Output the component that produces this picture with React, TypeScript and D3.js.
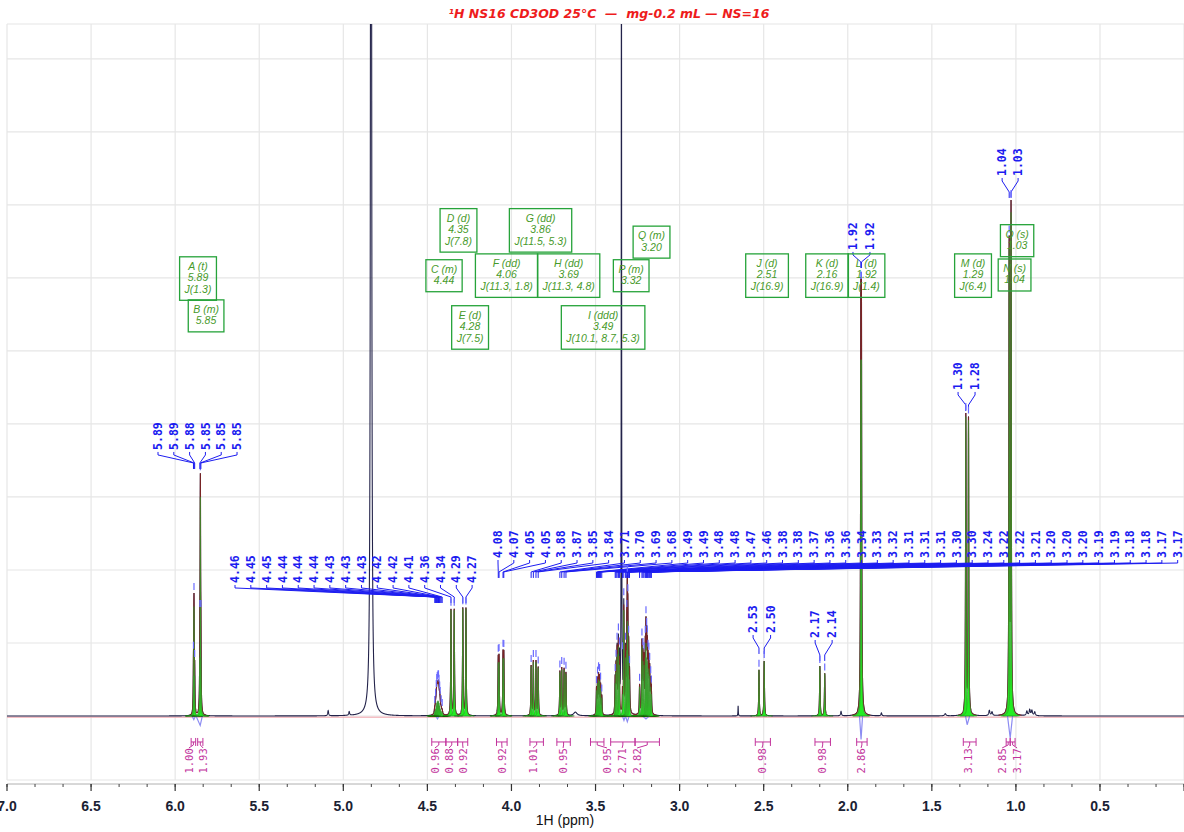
import React, { useMemo } from 'react'
import * as d3 from 'd3'

const W = 1184
const H = 832
const frame = { left: 7, right: 1184.07, top: 24, bottom: 780 }
const ppmDomain: [number, number] = [7, 0]
// intensity units: one grid row = 1
const intensityDomain: [number, number] = [-0.877, 9.479]

const titleText = '¹H NS16 CD3OD 25°C  —  mg-0.2 mL — NS=16'
const axisTitle = '1H (ppm)'

// multiplet report
const multipletIds = ['A', 'B', 'C', 'D', 'E', 'F', 'G', 'H', 'I', 'P', 'Q', 'J', 'K', 'L', 'M', 'N', 'O']
const multipletKinds = ['t', 'm', 'm', 'd', 'd', 'dd', 'dd', 'dd', 'ddd', 'm', 'm', 'd', 'd', 'd', 'd', 's', 's']
const multipletShifts = ['5.89', '5.85', '4.44', '4.35', '4.28', '4.06', '3.86', '3.69', '3.49', '3.32', '3.20', '2.51', '2.16', '1.92', '1.29', '1.04', '1.03']
const multipletCouplings = ['1.3', '', '', '7.8', '7.5', '11.3, 1.8', '11.5, 5.3', '11.3, 4.8', '10.1, 8.7, 5.3', '', '', '16.9', '16.9', '1.4', '6.4', '', '']
// where each report box sits: [ppm of box centre, intensity of box top]
const multipletBoxAt: [number, number][] = [
    [5.864, 6.29], [5.816, 5.70], [4.401, 6.25], [4.315, 6.95], [4.246, 5.62], [4.029, 6.33],
    [3.827, 6.95], [3.660, 6.33], [3.455, 5.62], [3.288, 6.25], [3.167, 6.71], [2.480, 6.33],
    [2.123, 6.33], [1.889, 6.33], [1.255, 6.33], [1.008, 6.26], [0.993, 6.73],
]

// deconvolved lines: [ppm, height, multiplet, half width (ppm)]
const fitLines: [number, number, string, number?][] = [
    [5.891, 0.55, 'A', 0.0015], [5.888, 1.5, 'A', 0.0015], [5.884, 0.55, 'A', 0.0015],
    [5.853, 0.8, 'B', 0.0015], [5.850, 3.0, 'B', 0.0015], [5.847, 0.8, 'B', 0.0015],
    [4.456, 0.06, 'C', 0.003], [4.451, 0.1, 'C', 0.003], [4.447, 0.14, 'C', 0.003], [4.444, 0.18, 'C', 0.003],
    [4.441, 0.2, 'C', 0.003], [4.437, 0.21, 'C', 0.003], [4.434, 0.2, 'C', 0.003], [4.431, 0.18, 'C', 0.003],
    [4.427, 0.14, 'C', 0.003], [4.424, 0.1, 'C', 0.003], [4.418, 0.07, 'C', 0.003], [4.412, 0.05, 'C', 0.003],
    [4.3597, 1.45, 'D'], [4.3403, 1.45, 'D'],
    [4.2894, 1.47, 'E'], [4.2706, 1.47, 'E'],
    [4.0784, 0.73, 'F'], [4.0739, 0.74, 'F'], [4.0501, 0.79, 'F'], [4.0456, 0.79, 'F'],
    [3.883, 0.68, 'G'], [3.8698, 0.74, 'G'], [3.8542, 0.74, 'G'], [3.841, 0.66, 'G'],
    [3.712, 0.6, 'H'], [3.701, 0.64, 'H'], [3.687, 0.63, 'H'], [3.676, 0.58, 'H'],
    [3.494, 0.35, 'I'], [3.488, 0.45, 'I'], [3.482, 0.5, 'I'], [3.476, 0.48, 'I'], [3.470, 0.38, 'I'], [3.463, 0.25, 'I'],
    [3.383, 0.45, 'P'], [3.378, 0.6, 'P'], [3.372, 0.85, 'P'], [3.364, 0.95, 'P'], [3.358, 0.7, 'P'],
    [3.340, 0.3, 'P'], [3.332, 1.45, 'P'], [3.321, 0.8, 'P'], [3.314, 0.9, 'P'], [3.311, 1.3, 'P'],
    [3.308, 1.1, 'P'], [3.303, 0.8, 'P'], [3.298, 0.5, 'P'],
    [3.238, 0.4, 'Q'], [3.224, 0.95, 'Q'], [3.218, 0.75, 'Q'], [3.212, 0.7, 'Q'], [3.204, 0.8, 'Q'],
    [3.200, 1.0, 'Q'], [3.196, 0.8, 'Q'], [3.192, 0.75, 'Q'], [3.188, 0.6, 'Q'], [3.183, 0.65, 'Q'],
    [3.178, 0.55, 'Q'], [3.172, 0.4, 'Q'], [3.168, 0.3, 'Q'],
    [2.528, 0.63, 'J'], [2.497, 0.75, 'J'],
    [2.166, 0.68, 'K'], [2.137, 0.58, 'K'],
    [1.9222, 4.88, 'L'], [1.9188, 4.88, 'L'],
    [1.298, 4.1, 'M'], [1.282, 4.05, 'M'],
    [1.040, 6.4, 'N'], [1.029, 6.9, 'O'],
]

// signals only in the measured spectrum: [ppm, height, half width]
const rawLines: [number, number, number][] = [
    [4.835, 30, 0.0025], [3.346, 12, 0.0012], [5.09, 0.07, 0.003], [4.965, 0.05, 0.003],
    [3.62, 0.05, 0.012], [2.652, 0.14, 0.0012], [2.04, 0.06, 0.003], [1.80, 0.04, 0.003],
    [1.42, 0.03, 0.005], [1.158, 0.07, 0.004], [1.142, 0.05, 0.004], [0.935, 0.06, 0.004],
    [0.918, 0.08, 0.004], [0.905, 0.07, 0.004], [0.888, 0.05, 0.004],
]

// residual of the fit, where it leaves the baseline
const residualDips: [number, number][][] = [
    [[5.90, 0], [5.889, -0.05], [5.878, 0.01], [5.851, -0.13], [5.838, 0]],
    [[4.45, 0], [4.44, -0.04], [4.43, 0]],
    [[3.34, 0], [3.331, -0.06], [3.322, 0], [3.311, -0.08], [3.30, 0]],
    [[3.22, 0], [3.20, -0.04], [3.18, 0]],
    [[1.93, 0], [1.921, -0.32], [1.912, 0]],
    [[1.30, 0], [1.29, -0.12], [1.275, 0]],
    [[1.05, 0], [1.034, -0.3], [1.02, 0]],
]

// peak labels: multiplets in each labelled cluster
const pickGroups = [['A', 'B'], ['C', 'D', 'E'], ['F', 'G', 'H', 'I', 'P', 'Q'], ['J'], ['K'], ['L'], ['M'], ['N', 'O']]
// [first label ppm, label pitch ppm, label foot intensity, knee intensity]
const pickLayout: [number, number, number, number][] = [
    [6.102, 0.094, 3.644, 3.466],
    [5.644, 0.094, 1.822, 1.63],
    [4.080, 0.094, 2.164, 1.973],
    [2.563, 0.104, 1.137, 0.932],
    [2.194, 0.101, 1.068, 0.836],
    [1.969, 0.101, 6.384, 6.219],
    [1.344, 0.101, 4.466, 4.26],
    [1.082, 0.095, 7.397, 7.178],
]

// integrals
const integralRanges: [number, number][] = [
    [5.905, 5.878], [5.866, 5.835], [4.474, 4.39], [4.39, 4.32], [4.32, 4.26], [4.089, 4.026],
    [3.89, 3.81], [3.73, 3.65], [3.53, 3.45], [3.41, 3.265], [3.265, 3.12], [2.55, 2.46],
    [2.195, 2.103], [1.947, 1.885], [1.313, 1.237], [1.058, 1.034], [1.034, 1.005],
]
const integralValues = ['1.00', '1.93', '0.96', '0.88', '0.92', '0.92', '1.01', '0.95', '0.95', '2.71', '2.82', '0.98', '0.98', '2.86', '3.13', '2.85', '3.17']
const integralTextAt = [5.918, 5.834, 4.455, 4.371, 4.288, 4.056, 3.871, 3.693, 3.432, 3.342, 3.253, 2.51, 2.153, 1.921, 1.285, 1.082, 0.993]
const integralLevel = -0.356
const integralTextLevel = -0.616

const majorTicks = d3.range(0, 15).map(i => 7 - i * 0.5)
const minorTicks = d3.range(0, 43).map(i => 7 - i / 6)
const gridRows = d3.range(0, 10)

const lor = (d: number, g: number) => 1 / (1 + (d / g) * (d / g))
const hw = (l: [number, number, string, number?]) => l[3] ?? 0.0018

const fitAt = (p: number) => {
    let s = 0
    for (const l of fitLines) s += l[1] * lor(p - l[0], hw(l))
    return s
}
const rawAt = (p: number) => {
    let s = fitAt(p)
    for (const l of rawLines) s += l[1] * lor(p - l[0], l[2])
    return s
}

const BLUE = '#1d1df0'
const GREEN_BOX = '#26a33a'
const GREEN_TEXT = '#479a2a'
const MAGENTA = '#c2339c'

export default function App() {
    const x = d3.scaleLinear().domain(ppmDomain).range([frame.left, frame.right])
    const y = d3.scaleLinear().domain(intensityDomain).range([frame.bottom, frame.top])

    const { spectrum, fitSum, components } = useMemo(() => {
        const base = d3.range(0, 14001).map(i => +(7 - i * 0.0005).toFixed(5))
        const centers = [...fitLines.map(l => l[0]), ...rawLines.map(l => l[0])]
        const grid = Array.from(new Set([...base, ...centers])).sort((a, b) => b - a)
        const spectrum = grid.map(p => [p, rawAt(p)] as [number, number])
        const fitSum = grid.map(p => [p, fitAt(p)] as [number, number])
        const components = fitLines.map(l =>
            grid.filter(p => Math.abs(p - l[0]) < 0.05)
                .map(p => [p, l[1] * lor(p - l[0], hw(l))] as [number, number]))
        return { spectrum, fitSum, components }
    }, [])

    const line = d3.line<[number, number]>().x(d => x(d[0])).y(d => y(d[1]))
    const fitLine = d3.line<[number, number]>().defined(d => d[1] > 0.01).x(d => x(d[0])).y(d => y(d[1]))
    const area = d3.area<[number, number]>().x(d => x(d[0])).y0(y(0)).y1(d => y(d[1]))

    const measure = useMemo(() => {
        const ctx = document.createElement('canvas').getContext('2d')!
        ctx.font = "italic 10.5px 'Liberation Sans'"
        return (t: string) => ctx.measureText(t).width
    }, [])

    const y0 = y(0)
    const axisY = frame.bottom + 4

    return (
        <div style={{ position: 'absolute', left: 0, top: 0 }}>
            <svg width={W} height={H} style={{ display: 'block', background: '#fff' }}>
                <defs>
                    <clipPath id="plot">
                        <rect x={frame.left} y={frame.top} width={frame.right - frame.left} height={frame.bottom - frame.top} />
                    </clipPath>
                </defs>

                {/* grid */}
                <g stroke="#e6e6e6" strokeWidth={1.2}>
                    {majorTicks.map(t => (
                        <line key={'v' + t} x1={x(t)} x2={x(t)} y1={frame.top} y2={frame.bottom} />
                    ))}
                    {gridRows.map(r => (
                        <line key={'h' + r} x1={frame.left} x2={frame.right} y1={y(r)} y2={y(r)} />
                    ))}
                    <line x1={frame.left} x2={frame.right} y1={frame.top} y2={frame.top} />
                    <line x1={frame.left} x2={frame.right} y1={frame.bottom} y2={frame.bottom} />
                </g>

                <g clipPath="url(#plot)">
                    {/* baseline trace */}
                    <line x1={frame.left} x2={frame.right} y1={y0 + 1.2} y2={y0 + 1.2} stroke="#f0a0a8" strokeWidth={1} />
                    {/* residual */}
                    {residualDips.map((d, i) => (
                        <path key={'r' + i} d={line(d) ?? ''} fill="none" stroke="#8c8cf2" strokeWidth={1.2} />
                    ))}
                    {/* measured spectrum */}
                    <path d={line(spectrum) ?? ''} fill="none" stroke="#23234a" strokeWidth={1.1} />
                    {/* fit sum */}
                    <path d={fitLine(fitSum) ?? ''} fill="none" stroke="#7a2424" strokeWidth={1.1} />
                    {/* deconvolved components */}
                    {components.map((c, i) => (
                        <path key={'c' + i} d={area(c) ?? ''} fill="#22ee22" stroke="#3b8a2e" strokeWidth={0.6} />
                    ))}
                </g>

                {/* peak labels */}
                <g clipPath="url(#plot)">
                    {pickGroups.map((ids, gi) => {
                        const [start, pitch, foot, knee] = pickLayout[gi]
                        const picks = fitLines.filter(l => ids.includes(l[2])).sort((a, b) => b[0] - a[0])
                        const fy = y(foot)
                        const ky = y(knee)
                        return (
                            <g key={'g' + gi}>
                                {picks.map((l, i) => {
                                    const lx = x(start - i * pitch)
                                    const px = x(l[0])
                                    const top = y(rawAt(l[0]))
                                    return (
                                        <g key={i}>
                                            <path d={`M${lx},${fy + 2}V${fy + 5}L${px},${ky}V${ky + 6}`} fill="none" stroke={BLUE} strokeWidth={1} />
                                            {top > frame.top + 10 && (
                                                <line x1={px} x2={px} y1={top - 3} y2={top - 10} stroke="#6a6aff" strokeWidth={1.2} />
                                            )}
                                            <text transform={`translate(${lx},${fy}) rotate(-90)`} dy="0.36em"
                                                fontFamily="'DejaVu Sans Mono', monospace" fontWeight="bold" fontSize={11.5} fill={BLUE}>
                                                {l[0].toFixed(2)}
                                            </text>
                                        </g>
                                    )
                                })}
                            </g>
                        )
                    })}
                </g>

                {/* multiplet report boxes */}
                <g>
                    {multipletIds.map((id, i) => {
                        const rows = [`${id} (${multipletKinds[i]})`, multipletShifts[i]]
                        if (multipletCouplings[i]) rows.push(`J(${multipletCouplings[i]})`)
                        const w = Math.max(...rows.map(measure)) + 10
                        const h = rows.length * 11.5 + 9
                        const cx = x(multipletBoxAt[i][0])
                        const top = y(multipletBoxAt[i][1])
                        return (
                            <g key={id}>
                                <rect x={cx - w / 2} y={top} width={w} height={h} fill="none" stroke={GREEN_BOX} strokeWidth={1.3} />
                                {rows.map((r, k) => (
                                    <text key={k} x={cx} y={top + 13 + k * 11.5} textAnchor="middle"
                                        fontFamily="'Liberation Sans', Arial, sans-serif" fontStyle="italic" fontSize={10.5} fill={GREEN_TEXT}>
                                        {r}
                                    </text>
                                ))}
                            </g>
                        )
                    })}
                </g>

                {/* integrals */}
                <g stroke={MAGENTA} strokeWidth={1} fill="none">
                    {integralRanges.map(([a, b], i) => {
                        const xa = x(a)
                        const xb = x(b)
                        const yb = y(integralLevel)
                        const cx = (xa + xb) / 2
                        const tx = x(integralTextAt[i])
                        const ty = y(integralTextLevel)
                        return (
                            <g key={'i' + i}>
                                <path d={`M${xa},${yb - 4}V${yb + 4}M${xb},${yb - 4}V${yb + 4}M${xa},${yb}H${xb}M${cx},${yb}V${yb + 3}L${tx},${yb + 6}`} />
                                <text transform={`translate(${tx},${ty}) rotate(-90)`} dy="0.35em" textAnchor="middle" stroke="none"
                                    fill={MAGENTA} fontFamily="'DejaVu Sans Mono', monospace" fontSize={10.5}>
                                    {integralValues[i]}
                                </text>
                            </g>
                        )
                    })}
                </g>

                {/* x axis */}
                <g>
                    <line x1={frame.left} x2={frame.right} y1={axisY} y2={axisY} stroke="#b0b0b0" strokeWidth={1} />
                    {minorTicks.map((t, i) => (
                        <line key={'m' + i} x1={x(t)} x2={x(t)} y1={axisY} y2={axisY + 3} stroke="#444" strokeWidth={1} />
                    ))}
                    {majorTicks.map(t => (
                        <line key={'M' + t} x1={x(t)} x2={x(t)} y1={axisY} y2={axisY + 7} stroke="#333" strokeWidth={1.2} />
                    ))}
                    {majorTicks.filter(t => x(t) < W - 10).map(t => (
                        <text key={'l' + t} x={x(t)} y={811} textAnchor="middle" fontFamily="'Liberation Sans', Arial, sans-serif"
                            fontWeight="bold" fontSize={14} fill="#1b2233">
                            {t.toFixed(1)}
                        </text>
                    ))}
                    <text x={565} y={825} textAnchor="middle" fontFamily="'Liberation Sans', Arial, sans-serif" fontSize={14} fill="#111">
                        {axisTitle}
                    </text>
                </g>

                {/* title */}
                <text x={609} y={18} textAnchor="middle" fontFamily="'DejaVu Sans', sans-serif" fontWeight="bold" fontStyle="italic"
                    fontSize={12.5} fill="#ee1c1c" style={{ whiteSpace: 'pre' }}>
                    {titleText}
                </text>
            </svg>
        </div>
    )
}
